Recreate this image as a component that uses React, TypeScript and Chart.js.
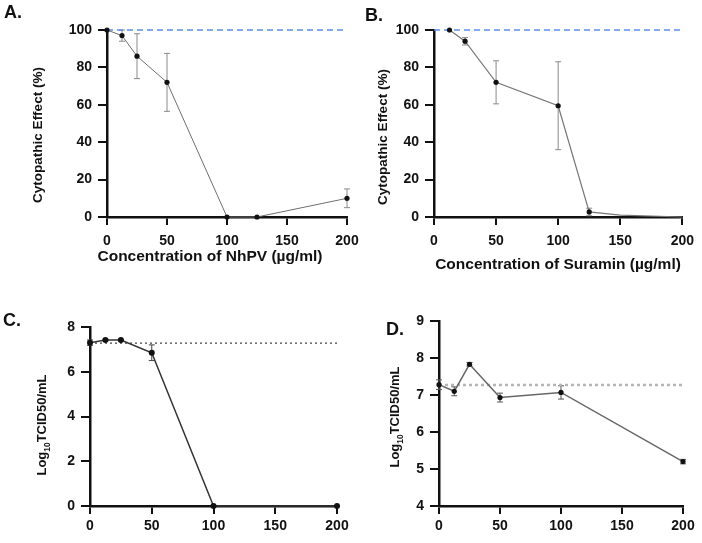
import React, { useEffect, useRef } from "react";
import { Chart, registerables } from "chart.js";
Chart.register(...registerables);

// ---------- DATA ----------
const concA = [0, 12.5, 25, 50, 100, 125, 200];
const cpeA = [100, 97, 86, 72, 0, 0, 10];
const cpeAErr = [0, 3, 12, 15.5, 0, 0, 5];

const concB = [12.5, 25, 50, 100, 125, 150, 200];
const cpeB = [100, 94, 72, 59.5, 2.7, 1, 0];
const cpeBErr = [0, 2, 11.5, 23.5, 2, 0, 0];
const cpeBMarker = [true, true, true, true, true, false, false];

const concC = [0, 12.5, 25, 50, 100, 200];
const titerC = [7.3, 7.42, 7.42, 6.85, 0, 0];
const titerCErr = [0.12, 0.03, 0.03, 0.35, 0, 0];

const concD = [0, 12.5, 25, 50, 100, 200];
const titerD = [7.28, 7.1, 7.83, 6.93, 7.07, 5.2];
const titerDErr = [0.13, 0.12, 0.05, 0.12, 0.18, 0.06];

const xRange = [0, 200];
const xStep = 50;
const cpeRange = [0, 100];
const cpeStep = 20;
const titerCRange = [0, 8];
const titerCStep = 2;
const titerDRange = [4, 9];
const titerDStep = 1;

const baselineCPE = 100;
const baselineC = 7.28;
const baselineD = 7.27;

const FONT = "'Liberation Sans', Arial, Helvetica, sans-serif";
Chart.defaults.font.family = FONT;

// ---------- PLUGINS ----------
const errorBarPlugin = {
  id: "errorBars",
  beforeDatasetsDraw(chart: any) {
    const ctx = chart.ctx;
    const ys = chart.scales.y;
    chart.data.datasets.forEach((ds: any, i: number) => {
      const errs = ds.errors;
      if (!errs) return;
      const meta = chart.getDatasetMeta(i);
      ctx.save();
      ctx.strokeStyle = ds.errorColor || "#8a8a8a";
      ctx.lineWidth = ds.errorWidth || 1;
      meta.data.forEach((pt: any, j: number) => {
        const e = errs[j];
        if (!e) return;
        const v = ds.data[j].y;
        const yt = ys.getPixelForValue(v + e);
        const yb = ys.getPixelForValue(v - e);
        const x = pt.x;
        const c = ds.capHalf || 3;
        ctx.beginPath();
        ctx.moveTo(x, yt);
        ctx.lineTo(x, yb);
        ctx.moveTo(x - c, yt);
        ctx.lineTo(x + c, yt);
        ctx.moveTo(x - c, yb);
        ctx.lineTo(x + c, yb);
        ctx.stroke();
      });
      ctx.restore();
    });
  },
};

function axis(range: number[], step: number, tickLen: number, pad: number, fit: (s: any) => void) {
  return {
    type: "linear",
    min: range[0],
    max: range[1],
    afterFit: fit,
    ticks: {
      stepSize: step,
      color: "#111",
      padding: pad,
      font: { size: 14, weight: "bold", family: FONT },
    },
    grid: {
      drawOnChartArea: false,
      drawTicks: true,
      tickLength: tickLen,
      color: "#111",
      lineWidth: 2,
    },
    border: { display: true, color: "#111", width: 2.5 },
  };
}

function mainSeries(xs: number[], ys: number[], errs: number[], opts: any) {
  return {
    data: xs.map((x, i) => ({ x, y: ys[i] })),
    errors: errs,
    showLine: true,
    tension: 0,
    clip: false,
    order: 0,
    pointBackgroundColor: "#111",
    pointBorderColor: "#111",
    pointBorderWidth: 0,
    ...opts,
  };
}

function refLine(v: number, opts: any) {
  return {
    data: [
      { x: xRange[0], y: v },
      { x: xRange[1], y: v },
    ],
    showLine: true,
    pointRadius: 0,
    clip: false,
    order: 1,
    ...opts,
  };
}

function makeConfig(
  datasets: any[],
  yRange: number[],
  yStep: number,
  pad: any,
  yw: number,
  xh: number,
  xPad: number
) {
  return {
    type: "scatter",
    data: { datasets },
    options: {
      responsive: false,
      animation: false,
      devicePixelRatio: 1,
      layout: { padding: pad },
      plugins: { legend: { display: false }, tooltip: { enabled: false } },
      scales: {
        x: axis(xRange, xStep, 8, xPad, (s: any) => {
          s.height = xh;
        }),
        y: axis(yRange, yStep, 9, 6, (s: any) => {
          s.width = yw;
        }),
      },
    },
    plugins: [errorBarPlugin],
  };
}

const cfgA = () =>
  makeConfig(
    [
      mainSeries(concA, cpeA, cpeAErr, { borderColor: "#6e6e6e", borderWidth: 1, pointRadius: 2.6 }),
      refLine(baselineCPE, { borderColor: "#5b8ee6", borderWidth: 1.6, borderDash: [6, 4] }),
    ],
    cpeRange,
    cpeStep,
    { left: 57, top: 30, right: 25, bottom: 18 },
    50,
    40,
    8
  );

const cfgB = () =>
  makeConfig(
    [
      mainSeries(concB, cpeB, cpeBErr, {
        borderColor: "#777",
        borderWidth: 1.2,
        pointRadius: cpeBMarker.map((m) => (m ? 2.6 : 0)),
      }),
      refLine(baselineCPE, { borderColor: "#5b8ee6", borderWidth: 1.6, borderDash: [6, 4] }),
    ],
    cpeRange,
    cpeStep,
    { left: 33, top: 30, right: 18, bottom: 18 },
    50,
    40,
    8
  );

const cfgC = () =>
  makeConfig(
    [
      mainSeries(concC, titerC, titerCErr, { borderColor: "#333", borderWidth: 1.5, pointRadius: 3, errorColor: "#444" }),
      refLine(baselineC, { borderColor: "#444", borderWidth: 1.2, borderDash: [2, 3] }),
    ],
    titerCRange,
    titerCStep,
    { left: 40, top: 47, right: 35, bottom: 7 },
    50,
    30,
    4
  );

const cfgD = () =>
  makeConfig(
    [
      mainSeries(concD, titerD, titerDErr, { borderColor: "#666", borderWidth: 1.5, pointRadius: 2.6, errorColor: "#555" }),
      refLine(baselineD, { borderColor: "#b5b5b5", borderWidth: 2.5, borderDash: [3, 3] }),
    ],
    titerDRange,
    titerDStep,
    { left: 38, top: 41, right: 19, bottom: 7 },
    50,
    30,
    4
  );

// ---------- COMPONENTS ----------
function Panel({ left, top, width, height, config }: any) {
  const ref = useRef<HTMLCanvasElement | null>(null);
  useEffect(() => {
    const chart = new Chart(ref.current as any, config() as any);
    return () => chart.destroy();
  }, []);
  return (
    <canvas
      ref={ref}
      width={width}
      height={height}
      style={{ position: "absolute", left, top, width, height }}
    />
  );
}

function Label({ x, y, size, rotate, children }: any) {
  return (
    <div
      style={{
        position: "absolute",
        left: x,
        top: y,
        transform: `translate(-50%, -50%)${rotate ? " rotate(-90deg)" : ""}`,
        whiteSpace: "nowrap",
        fontFamily: FONT,
        fontWeight: "bold",
        fontSize: size,
        lineHeight: 1,
        color: "#111",
      }}
    >
      {children}
    </div>
  );
}

export default function App() {
  return (
    <div
      style={{
        position: "absolute",
        left: 0,
        top: 0,
        width: 702,
        height: 543,
        background: "#fff",
        overflow: "hidden",
      }}
    >
      <Panel left={0} top={0} width={372} height={275} config={cfgA} />
      <Panel left={351} top={0} width={351} height={275} config={cfgB} />
      <Panel left={0} top={280} width={372} height={263} config={cfgC} />
      <Panel left={351} top={280} width={351} height={263} config={cfgD} />

      <Label x={13} y={12} size={18}>A.</Label>
      <Label x={374} y={15} size={18}>B.</Label>
      <Label x={12} y={320} size={18}>C.</Label>
      <Label x={395} y={329} size={18}>D.</Label>

      <Label x={38} y={135} size={13.5} rotate>Cytopathic Effect (%)</Label>
      <Label x={383} y={137} size={13.5} rotate>Cytopathic Effect (%)</Label>
      <Label x={43} y={425} size={13} rotate>
        Log<sub style={{ fontSize: "0.65em" }}>10</sub>TCID50/mL
      </Label>
      <Label x={396} y={417} size={13} rotate>
        Log<sub style={{ fontSize: "0.65em" }}>10</sub>TCID50/mL
      </Label>

      <Label x={210} y={256} size={15.5}>Concentration of NhPV (µg/ml)</Label>
      <Label x={558} y={264} size={15.5}>Concentration of Suramin (µg/ml)</Label>
    </div>
  );
}
